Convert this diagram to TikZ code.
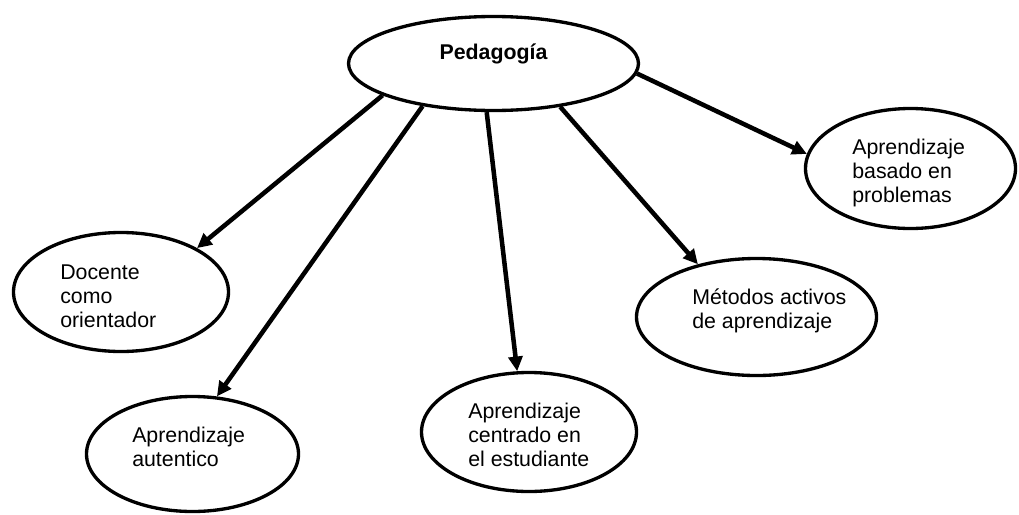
\documentclass[tikz,border=0pt]{standalone}
\usepackage{fontspec}
\setmainfont{Liberation Sans}
\usetikzlibrary{shapes.geometric,arrows.meta}
\begin{document}
\begin{tikzpicture}[x=0.75pt,y=-0.75pt,
  oval/.style 2 args={ellipse,draw,line width=2.5pt,inner sep=0pt,
    minimum width=#1*0.75pt,minimum height=#2*0.75pt},
  txt/.style={anchor=base west,align=left,inner sep=0pt,
    font=\fontsize{16}{18}\selectfont},
  link/.style={line width=3.4pt,-{Triangle[length=11pt,width=10.5pt]}}]
\useasboundingbox (0,0) rectangle (1019,514);

% concept ovals
\node[oval={290}{94}]  (ped) at (493.5,63.5) {};
\node[oval={215}{119}] (doc) at (121,292) {};
\node[oval={212}{115}] (aut) at (192.5,454) {};
\node[oval={215}{119}] (cen) at (529,432) {};
\node[oval={240}{117}] (met) at (756.5,317) {};
\node[oval={210}{120}] (bas) at (910.5,168.5) {};

% labels (multi-line labels sit on the baseline of their last line)
\node[txt,anchor=base,font=\fontsize{16}{18}\selectfont\bfseries] (tped) at (493.5,59) {Pedagogía};
\node[txt] (tdoc) at (60,327) {Docente\\como\\orientador};
\node[txt] (taut) at (132,466) {Aprendizaje\\autentico};
\node[txt] (tcen) at (468,466) {Aprendizaje\\centrado en\\el estudiante};
\node[txt] (tmet) at (692,328) {Métodos activos\\de aprendizaje};
\node[txt] (tbas) at (852,202) {Aprendizaje\\basado en\\problemas};

% connectors
\draw[link] (ped.196.4) -- (doc.30.3);
\draw[link] (ped.211.2) -- (aut.67.5);
\draw[link] (ped.262.8) -- (cen.101.3);
\draw[link] (ped.327.7) -- (met.138.8);
\draw[link] (ped.356.6) -- (bas.172.8);
\end{tikzpicture}
\end{document}
